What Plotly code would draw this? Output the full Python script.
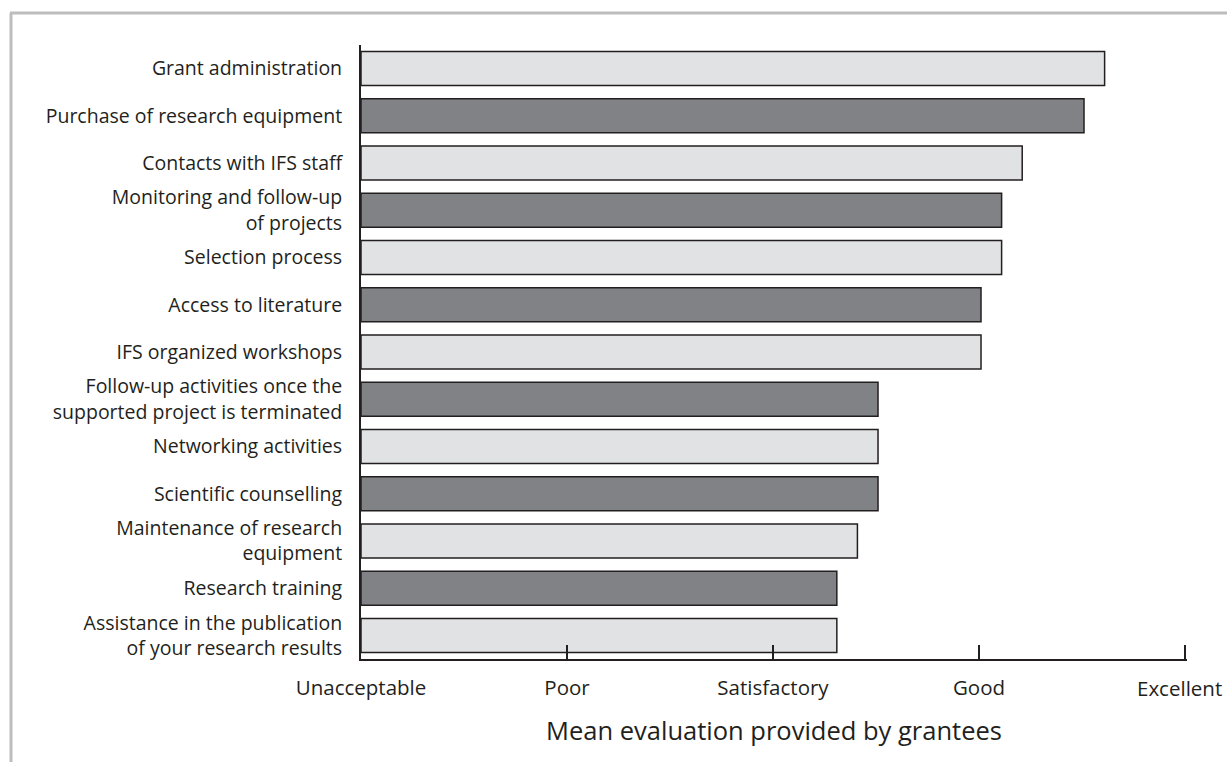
import plotly.graph_objects as go

categories = [
    "Grant administration",
    "Purchase of research equipment",
    "Contacts with IFS staff",
    "Monitoring and follow-up<br>of projects",
    "Selection process",
    "Access to literature",
    "IFS organized workshops",
    "Follow-up activities once the<br>supported project is terminated",
    "Networking activities",
    "Scientific counselling",
    "Maintenance of research<br>equipment",
    "Research training",
    "Assistance in the publication<br>of your research results",
]
values = [4.61, 4.51, 4.21, 4.11, 4.11, 4.01, 4.01, 3.51, 3.51, 3.51, 3.41, 3.31, 3.31]
tick_vals = [1, 2, 3, 4, 5]
tick_text = ["Unacceptable", "Poor", "Satisfactory", "Good", "Excellent"]

LIGHT = "#e1e2e3"
DARK = "#818285"
colors = [LIGHT if i % 2 == 0 else DARK for i in range(len(categories))]

fig = go.Figure(
    go.Bar(
        x=[v - 1 for v in values],
        base=1,
        y=categories,
        orientation="h",
        marker=dict(color=colors, line=dict(color="#231f20", width=1.5)),
        width=0.72,
    )
)

FONT = "Open Sans"
TXT = "#231f20"

W, H = 1227, 762
L, T, R, B = 361, 45, 40, 103
PW = W - L - R
PH = H - T - B

# the last tick label sits at the figure edge; draw it as an annotation
# nudged left so that it stays fully inside the page
axis_text = tick_text[:-1] + [""]

fig.update_layout(
    width=W,
    height=H,
    margin=dict(l=L, r=R, t=T, b=B, autoexpand=False),
    plot_bgcolor="white",
    paper_bgcolor="white",
    showlegend=False,
    font=dict(family=FONT, size=19, color=TXT),
    xaxis=dict(
        range=[1, 5.01],
        tickvals=tick_vals,
        ticktext=axis_text,
        ticks="inside",
        ticklen=14,
        tickwidth=2,
        tickcolor=TXT,
        showline=True,
        linecolor=TXT,
        linewidth=2,
        showgrid=False,
        zeroline=False,
        automargin=False,
        ticklabelstandoff=9,
        tickfont=dict(family=FONT, size=20.5, color=TXT),
        title=dict(text="Mean evaluation provided by grantees",
                   font=dict(family=FONT, size=25.5, color=TXT), standoff=23),
    ),
    yaxis=dict(
        range=[12.5, -0.5],
        showline=True,
        linecolor=TXT,
        linewidth=2,
        showgrid=False,
        zeroline=False,
        automargin=False,
        ticks="",
        ticklabelstandoff=13,
        tickfont=dict(family=FONT, size=19.5, color=TXT),
    ),
    annotations=[
        dict(x=tick_vals[-1], xref="x", y=0, yref="paper",
             text=tick_text[-1], showarrow=False,
             xanchor="center", yanchor="middle", xshift=-5, yshift=-29,
             font=dict(family=FONT, size=20.5, color=TXT)),
    ],
    shapes=[
        dict(type="line", xref="paper", yref="paper",
             x0=(10 - L) / PW, x1=(W + 10 - L) / PW,
             y0=(T + PH - 13) / PH, y1=(T + PH - 13) / PH,
             line=dict(color="#bdbdbd", width=3)),
        dict(type="line", xref="paper", yref="paper",
             x0=(11 - L) / PW, x1=(11 - L) / PW,
             y0=(T + PH - 13) / PH, y1=-(B + 20) / PH,
             line=dict(color="#bdbdbd", width=3)),
    ],
)

fig.write_html("out.html", config={"displayModeBar": False},
               post_script="document.body.style.margin='0';")
